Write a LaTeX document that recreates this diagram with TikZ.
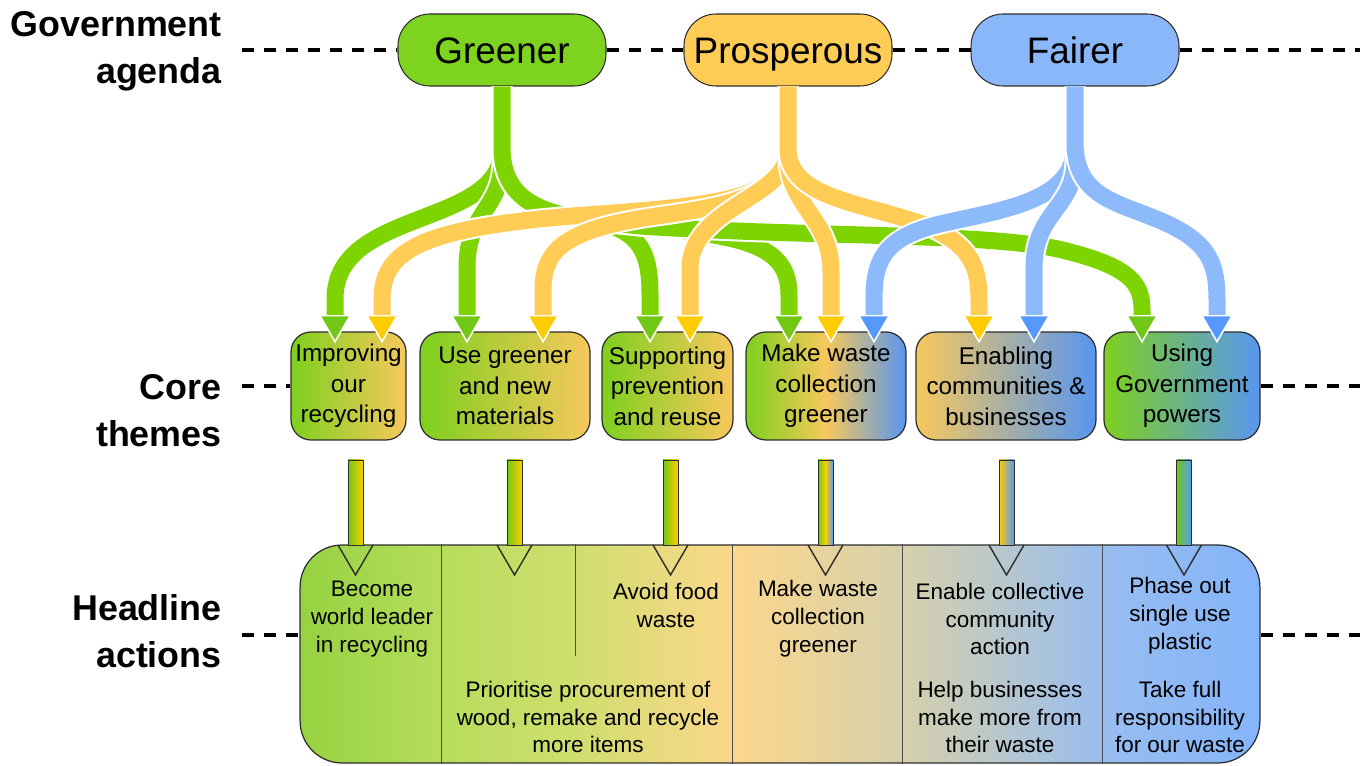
\documentclass[tikz,border=0pt]{standalone}
\usepackage{fontspec}
\setmainfont{Liberation Sans}
\usetikzlibrary{arrows.meta, calc}
\definecolor{greencolor}{RGB}{126, 211, 33}
\definecolor{prospcolor}{RGB}{255, 204, 85}
\definecolor{faircolor}{RGB}{138, 183, 250}
\definecolor{gflowcolor}{RGB}{126, 212, 0}
\definecolor{oflowcolor}{RGB}{255, 204, 85}
\definecolor{bflowcolor}{RGB}{140, 186, 250}
\definecolor{gtipcolor}{RGB}{112, 200, 20}
\definecolor{otipcolor}{RGB}{255, 204, 0}
\definecolor{btipcolor}{RGB}{85, 153, 255}
\definecolor{thgreen}{RGB}{126, 208, 30}
\definecolor{thorange}{RGB}{247, 200, 92}
\definecolor{thblue}{RGB}{88, 150, 240}
\definecolor{edgecolor}{RGB}{45, 45, 45}
\definecolor{acone}{RGB}{150, 210, 65}
\definecolor{actwo}{RGB}{182, 221, 92}
\definecolor{acthree}{RGB}{208, 222, 110}
\definecolor{acfour}{RGB}{252, 215, 140}
\definecolor{acfive}{RGB}{214, 208, 172}
\definecolor{acsix}{RGB}{152, 189, 240}
\definecolor{acseven}{RGB}{132, 180, 250}
\pgfdeclarehorizontalshading{actshade}{100bp}{color(0bp)=(acone); color(25bp)=(acone); color(32.4bp)=(actwo); color(39.5bp)=(acthree); color(47.6bp)=(acfour); color(56.5bp)=(acfive); color(66.9bp)=(acsix); color(75bp)=(acseven); color(100bp)=(acseven)}

\begin{document}
\begin{tikzpicture}[
    x=0.02cm, y=-0.02cm,
    agenda/.style={rectangle, draw=edgecolor, line width=0.6pt, rounded corners=0.64cm, minimum width=4.16cm, minimum height=1.44cm, inner sep=0pt, text height=15pt, text depth=0pt, font=\fontsize{21}{25}\selectfont},
    theme/.style={rectangle, draw=edgecolor, line width=0.7pt, rounded corners=0.4cm, minimum height=2.16cm, inner sep=0pt, align=center, font=\fontsize{13.8}{17.3}\selectfont},
    rowlabel/.style={anchor=east, align=right, inner sep=0pt, font=\fontsize{20.4}{26.6}\selectfont\bfseries},
    action/.style={align=center, inner sep=0pt, font=\fontsize{12.8}{15.9}\selectfont},
    level/.style={line width=0.08cm, dash pattern=on 0.24cm off 0.2cm},
    flow/.style={line width=0.34cm, preaction={draw=white, line width=0.42cm}},
    gflow/.style={flow, draw=gflowcolor, -{Triangle[width=0.64cm, length=0.56cm, fill=gtipcolor, color=white, line width=0.8pt]}},
    oflow/.style={flow, draw=oflowcolor, -{Triangle[width=0.64cm, length=0.56cm, fill=otipcolor, color=white, line width=0.8pt]}},
    bflow/.style={flow, draw=bflowcolor, -{Triangle[width=0.64cm, length=0.56cm, fill=btipcolor, color=white, line width=0.8pt]}},
    stripe/.style={draw=edgecolor, line width=0.5pt},
    opentip/.style={draw=edgecolor, line width=0.8pt, line join=miter},
    divider/.style={draw=edgecolor!85, line width=0.7pt},
]
\useasboundingbox (0,0) rectangle (1370,766);

% ============ row labels ============
\node[rowlabel] (lab_agenda) at (222,51) {Government\\agenda};
\node[rowlabel] (lab_themes) at (222,411) {Core\\themes};
\node[rowlabel] (lab_actions) at (222,631) {Headline\\actions};

% ============ government agenda ============
\node[agenda, fill=greencolor] (greener) at (502,50) {Greener};
\node[agenda, fill=prospcolor] (prosp) at (788,50) {Prosperous};
\node[agenda, fill=faircolor] (fairer) at (1075,50) {Fairer};

% ============ core themes ============
\node[theme, minimum width=2.3cm, left color=thgreen, right color=thorange] (t1) at (348.5,386) {Improving\\our\\recycling};
\node[theme, minimum width=3.4cm, left color=thgreen, right color=thorange] (t2) at (505,386) {Use greener\\and new\\materials};
\node[theme, minimum width=2.62cm, left color=thgreen, right color=thorange] (t3) at (667.5,386) {Supporting\\prevention\\and reuse};
\node[theme, minimum width=3.2cm, left color=thgreen, right color=thblue, middle color=thorange] (t4) at (826,386) {Make waste\\collection\\greener};
\node[theme, minimum width=3.6cm, left color=thorange, right color=thblue] (t5) at (1006,386) {Enabling\\communities \&\\businesses};
\node[theme, minimum width=3.12cm, left color=thgreen, right color=thblue] (t6) at (1182,386) {Using\\Government\\powers};

% ============ headline actions ============
\node[draw=edgecolor, line width=0.7pt, rounded corners=0.84cm, minimum width=19.2cm, minimum height=4.36cm, inner sep=0pt, shade, shading=actshade] (acts) at (780,654) {};
\draw[divider] ($(acts.north west)+(142,0)$) -- ($(acts.south west)+(142,0)$);
\draw[divider] ($(acts.north west)+(276,0)$) -- ($(acts.north west)+(276,112)$);
\draw[divider] ($(acts.north west)+(433,0)$) -- ($(acts.south west)+(433,0)$);
\draw[divider] ($(acts.north west)+(603,0)$) -- ($(acts.south west)+(603,0)$);
\draw[divider] ($(acts.north west)+(803,0)$) -- ($(acts.south west)+(803,0)$);

\node[action] (act_lead) at (372,619) {Become\\world leader\\in recycling};
\node[action] (act_food) at (666,605) {Avoid food\\waste};
\node[action] (act_wood) at (588,717) {Prioritise procurement of\\wood, remake and recycle\\more items};
\node[action] (act_coll) at (818,619) {Make waste\\collection\\greener};
\node[action] (act_comm) at (1000,619) {Enable collective\\community\\action};
\node[action] (act_busi) at (1000,717) {Help businesses\\make more from\\their waste};
\node[action] (act_plas) at (1180,616) {Phase out\\single use\\plastic};
\node[action] (act_resp) at (1180,717) {Take full\\responsibility\\for our waste};

% ============ dashed levels ============
\coordinate (al) at (242,50);
\coordinate (ar) at (1360,50);
\coordinate (tl) at (242,386);
\coordinate (tr) at (1360,386);
\coordinate (hl) at (242,635);
\coordinate (hr) at (1360,635);
\draw[level] (al) -- (greener.west);
\draw[level] (greener.east) -- (prosp.west);
\draw[level] (prosp.east) -- (fairer.west);
\draw[level] (fairer.east) -- (ar);
\draw[level] (tl) -- (t1.west);
\draw[level] (t6.east) -- (tr);
\draw[level] (hl) -- (hl -| acts.west);
\draw[level] (hr -| acts.east) -- (hr);

% ============ flow ends ============
\coordinate (t1g) at (335,343);
\coordinate (t1o) at (382,343);
\coordinate (t2g) at (467,343);
\coordinate (t2o) at (543,343);
\coordinate (t3g) at (650,343);
\coordinate (t3o) at (690,343);
\coordinate (t4g) at (789,343);
\coordinate (t4o) at (831,343);
\coordinate (t4b) at (874,343);
\coordinate (t5o) at (979,343);
\coordinate (t5b) at (1034,343);
\coordinate (t6g) at (1142,343);
\coordinate (t6b) at (1217,343);

% Greener
\draw[gflow] (greener.south) -- (502,150) .. controls (500,228) and (336,208) .. (335,298) -- (t1g);
\draw[gflow] (greener.south) -- (502,160) .. controls (502,210) and (467,210) .. (467,268) -- (t2g);
\draw[gflow] (greener.south) -- (502,150) .. controls (504,208) and (560,212) .. (600,222) .. controls (640,233) and (650,252) .. (650,295) -- (t3g);
\draw[gflow] (greener.south) -- (502,150) .. controls (504,212) and (560,218) .. (640,226) .. controls (745,236) and (789,245) .. (789,295) -- (t4g);
\draw[gflow] (greener.south) -- (502,150) .. controls (504,212) and (560,218) .. (640,226) .. controls (820,238) and (1000,232) .. (1070,252) .. controls (1132,268) and (1142,285) .. (1142,310) -- (t6g);

% Prosperous
\draw[oflow] (prosp.south) -- (788,145) .. controls (788,198) and (720,205) .. (600,214) .. controls (420,226) and (382,250) .. (382,300) -- (t1o);
\draw[oflow] (prosp.south) -- (788,145) .. controls (788,198) and (720,207) .. (650,217) .. controls (565,230) and (543,250) .. (543,290) -- (t2o);
\draw[oflow] (prosp.south) -- (788,150) .. controls (788,198) and (695,205) .. (690,265) -- (t3o);
\draw[oflow] (prosp.south) -- (788,160) .. controls (790,208) and (831,218) .. (831,272) -- (t4o);
\draw[oflow] (prosp.south) -- (788,150) .. controls (790,198) and (860,202) .. (925,225) .. controls (972,245) and (979,268) .. (979,300) -- (t5o);

% Fairer
\draw[bflow] (fairer.south) -- (1075,145) .. controls (1075,202) and (1000,210) .. (940,224) .. controls (882,238) and (874,262) .. (874,300) -- (t4b);
\draw[bflow] (fairer.south) -- (1075,160) .. controls (1075,208) and (1034,212) .. (1034,268) -- (t5b);
\draw[bflow] (fairer.south) -- (1075,145) .. controls (1077,200) and (1120,202) .. (1168,224) .. controls (1210,244) and (1217,265) .. (1217,300) -- (t6b);

% ============ themes to actions ============
\coordinate (a1) at (355.5,460);
\coordinate (a2) at (514.5,460);
\coordinate (a3) at (670.5,460);
\coordinate (a4) at (825.5,460);
\coordinate (a5) at (1006.5,460);
\coordinate (a6) at (1184,460);
\shade[stripe, left color=gtipcolor, right color=otipcolor] ($(a1)+(-7.5,0)$) rectangle ($(a1)+(7.5,85)$);
\shade[stripe, left color=gtipcolor, right color=otipcolor] ($(a2)+(-7.5,0)$) rectangle ($(a2)+(7.5,85)$);
\shade[stripe, left color=gtipcolor, right color=otipcolor] ($(a3)+(-7.5,0)$) rectangle ($(a3)+(7.5,85)$);
\shade[stripe, left color=gtipcolor, right color=btipcolor, middle color=otipcolor] ($(a4)+(-7.5,0)$) rectangle ($(a4)+(7.5,85)$);
\shade[stripe, left color=otipcolor, right color=btipcolor] ($(a5)+(-7.5,0)$) rectangle ($(a5)+(7.5,85)$);
\shade[stripe, left color=gtipcolor, right color=btipcolor] ($(a6)+(-7.5,0)$) rectangle ($(a6)+(7.5,85)$);
\draw[opentip] ($(a1)+(-17.5,85)$) -- ($(a1)+(0,115)$) -- ($(a1)+(17.5,85)$);
\draw[opentip] ($(a2)+(-17.5,85)$) -- ($(a2)+(0,115)$) -- ($(a2)+(17.5,85)$);
\draw[opentip] ($(a3)+(-17.5,85)$) -- ($(a3)+(0,115)$) -- ($(a3)+(17.5,85)$);
\draw[opentip] ($(a4)+(-17.5,85)$) -- ($(a4)+(0,115)$) -- ($(a4)+(17.5,85)$);
\draw[opentip] ($(a5)+(-17.5,85)$) -- ($(a5)+(0,115)$) -- ($(a5)+(17.5,85)$);
\draw[opentip] ($(a6)+(-17.5,85)$) -- ($(a6)+(0,115)$) -- ($(a6)+(17.5,85)$);

\end{tikzpicture}
\end{document}
